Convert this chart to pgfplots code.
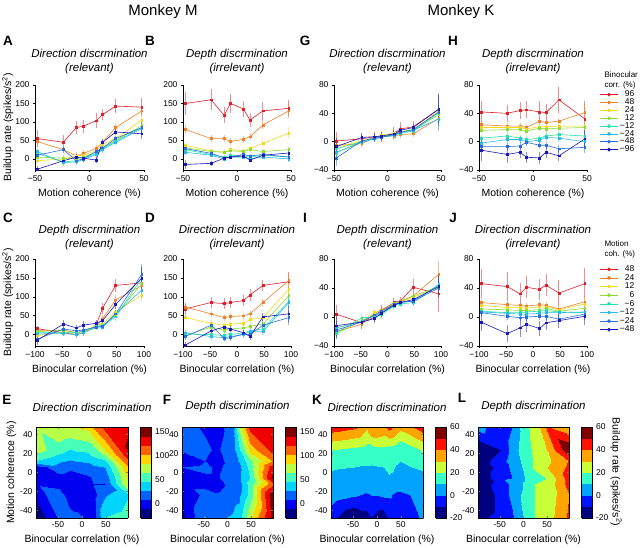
\documentclass[border=0pt]{standalone}
\usepackage{pgfplots}
\pgfplotsset{compat=1.18}
\usepackage{pgfplotstable}
\usepackage{fontspec}
\setmainfont{Liberation Sans}
\newcommand\tks{\fontsize{8.5}{9}\selectfont}
\newcommand\lbs{\fontsize{10.5}{12}\selectfont}
\newcommand\tts{\fontsize{11.5}{13.5}\selectfont\itshape}
\newcommand\lgs{\fontsize{8.5}{8.5}\selectfont}
\definecolor{c1}{RGB}{222,30,40}
\definecolor{c2}{RGB}{238,128,40}
\definecolor{c3}{RGB}{245,215,30}
\definecolor{c4}{RGB}{140,220,50}
\definecolor{c5}{RGB}{40,225,170}
\definecolor{c6}{RGB}{40,185,230}
\definecolor{c7}{RGB}{40,110,225}
\definecolor{c8}{RGB}{25,25,185}

% Monkey M, direction task (A, D, E): rows ordered by corr, then coh
\pgfplotstableread{
corr coh z e
-96 -48 -28 8
-96 -24 -5 8
-96 -12 5 8
-96 -6 2 8
-96 6 -3 8
-96 12 45 8
-96 24 73 8
-96 48 68 15
-48 -48 10 8
-48 -24 25 8
-48 -12 -5 8
-48 -6 0 8
-48 6 20 8
-48 12 30 8
-48 24 55 8
-48 48 85 15
-24 -48 20 8
-24 -24 -10 8
-24 -12 -8 8
-24 -6 -2 8
-24 6 12 8
-24 12 25 8
-24 24 45 8
-24 48 82 15
-12 -48 15 8
-12 -24 -8 8
-12 -12 -5 8
-12 -6 0 8
-12 6 15 8
-12 12 28 8
-12 24 48 8
-12 48 85 15
12 -48 5 8
12 -24 2 8
12 -12 0 8
12 -6 5 8
12 6 18 8
12 12 30 8
12 24 50 8
12 48 90 15
24 -48 -5 8
24 -24 0 8
24 -12 8 8
24 -6 10 8
24 6 22 8
24 12 40 8
24 24 55 8
24 48 105 15
48 -48 47 10
48 -24 25 10
48 -12 8 10
48 -6 15 10
48 6 28 10
48 12 45 10
48 24 85 10
48 48 130 15
96 -48 55 22
96 -24 45 20
96 -12 85 18
96 -6 88 18
96 6 103 20
96 12 120 15
96 24 143 20
96 48 140 25
}\Mdir

% Monkey M, depth task (B, C, F)
\pgfplotstableread{
corr coh z e
-96 -48 -15 12
-96 -24 -12 6
-96 -12 2 6
-96 -6 5 6
-96 6 8 6
-96 12 -3 6
-96 24 10 6
-96 48 16 8
-48 -48 28 12
-48 -24 15 6
-48 -12 3 6
-48 -6 5 6
-48 6 12 6
-48 12 8 6
-48 24 12 6
-48 48 5 8
-24 -48 18 8
-24 -24 10 6
-24 -12 0 6
-24 -6 5 6
-24 6 5 6
-24 12 0 6
-24 24 5 6
-24 48 0 8
-12 -48 25 10
-12 -24 12 6
-12 -12 5 6
-12 -6 10 6
-12 6 8 6
-12 12 5 6
-12 24 10 6
-12 48 5 8
12 -48 30 8
12 -24 20 6
12 -12 18 6
12 -6 22 6
12 6 20 6
12 12 25 6
12 24 20 6
12 48 25 8
24 -48 37 8
24 -24 22 6
24 -12 18 6
24 -6 25 6
24 6 22 6
24 12 28 6
24 24 42 10
24 48 70 15
48 -48 80 12
48 -24 55 10
48 -12 55 10
48 -6 47 10
48 6 53 10
48 12 60 10
48 24 92 12
48 48 130 18
96 -48 150 30
96 -24 160 28
96 -12 118 22
96 -6 150 25
96 6 135 22
96 12 105 18
96 24 130 25
96 48 137 22
}\Mdepth

% Monkey K, direction task (G, J, K)
\pgfplotstableread{
corr coh z e
-96 -48 -7 12
-96 -24 6 5
-96 -12 7 5
-96 -6 8 5
-96 6 11 5
-96 12 16 5
-96 24 20 5
-96 48 46 20
-48 -48 -23 12
-48 -24 1 5
-48 -12 5 5
-48 -6 6 5
-48 6 10 5
-48 12 13 5
-48 24 17 5
-48 48 42 20
-24 -48 -15 12
-24 -24 -1 5
-24 -12 4 5
-24 -6 6 5
-24 6 9 5
-24 12 13 5
-24 24 16 5
-24 48 32 15
-12 -48 -10 10
-12 -24 0 5
-12 -12 4 5
-12 -6 7 5
-12 6 9 5
-12 12 12 5
-12 24 15 5
-12 48 41 15
12 -48 -16 10
12 -24 1 5
12 -12 5 5
12 -6 8 5
12 6 10 5
12 12 14 5
12 24 17 5
12 48 38 15
24 -48 -8 10
24 -24 1 5
24 -12 6 5
24 -6 9 5
24 6 12 5
24 12 14 5
24 24 16 5
24 48 44 15
48 -48 -5 10
48 -24 -3 5
48 -12 6 5
48 -6 7 5
48 6 8 5
48 12 10 5
48 24 11 5
48 48 33 18
96 -48 1 12
96 -24 4 8
96 -12 7 6
96 -6 6 6
96 6 12 8
96 12 18 10
96 24 21 8
96 48 46 22
}\Kdir

% Monkey K, depth task (H, I, L)
\pgfplotstableread{
corr coh z e
-96 -48 -12 15
-96 -24 -18 12
-96 -12 -15 8
-96 -6 -22 8
-96 6 -23 8
-96 12 -15 8
-96 24 -20 8
-96 48 4 12
-48 -48 -7 5
-48 -24 -7 5
-48 -12 -6 5
-48 -6 -1 5
-48 6 -5 5
-48 12 -5 5
-48 24 -10 5
-48 48 -8 8
-24 -48 -2 5
-24 -24 3 5
-24 -12 3 5
-24 -6 0 5
-24 6 2 5
-24 12 6 5
-24 24 5 5
-24 48 0 8
-12 -48 5 5
-12 -24 8 5
-12 -12 5 5
-12 -6 3 5
-12 6 5 5
-12 12 8 5
-12 24 10 5
-12 48 8 8
12 -48 16 4
12 -24 17 4
12 -12 17 4
12 -6 15 4
12 6 19 4
12 12 18 4
12 24 19 4
12 48 20 6
24 -48 20 4
24 -24 20 4
24 -12 20 4
24 -6 18 4
24 6 21 4
24 12 21 4
24 24 22 4
24 48 22 6
48 -48 24 5
48 -24 22 5
48 -12 22 5
48 -6 20 5
48 6 29 5
48 12 27 5
48 24 29 5
48 48 41 12
96 -48 42 15
96 -24 40 12
96 -12 44 12
96 -6 45 12
96 6 42 15
96 12 41 12
96 24 59 18
96 48 32 25
}\Kdepth

% same data re-ordered by coherence, then correlation (for panels C, D, I, J)
\pgfplotstablecreatecol[create col/expr={\thisrow{coh}*200+\thisrow{corr}}]{key}{\Mdir}
\pgfplotstablecreatecol[create col/expr={\thisrow{coh}*200+\thisrow{corr}}]{key}{\Mdepth}
\pgfplotstablecreatecol[create col/expr={\thisrow{coh}*200+\thisrow{corr}}]{key}{\Kdir}
\pgfplotstablecreatecol[create col/expr={\thisrow{coh}*200+\thisrow{corr}}]{key}{\Kdepth}
\pgfplotstablesort[sort key=key]{\MdirT}{\Mdir}
\pgfplotstablesort[sort key=key]{\MdepthT}{\Mdepth}
\pgfplotstablesort[sort key=key]{\KdirT}{\Kdir}
\pgfplotstablesort[sort key=key]{\KdepthT}{\Kdepth}

\pgfplotsset{
  ser/.style={color=#1, line width=0.6pt, mark=square*, mark size=0.9pt,
    error bars/y dir=both, error bars/y explicit,
    error bars/error bar style={line width=0.9pt, opacity=0.5},
    error bars/error mark=none},
  lp/.style={scale only axis, anchor=south west,
    axis x line*=bottom, axis y line*=left, tick align=outside,
    major tick length=2pt, axis line style={line width=0.6pt},
    tick style={line width=0.6pt, black},
    tick label style={font=\tks}, label style={font=\lbs},
    ylabel shift=-5pt,
    title style={font=\tts, align=center, yshift=2pt}},
  cp/.style={scale only axis, anchor=south west, view={0}{90},
    enlargelimits=false, axis on top, xmin=-96, xmax=96, ymin=-48, ymax=48,
    xtick={-50,0,50}, xticklabels={-50,0,50},
    ytick={-40,-20,0,20,40}, yticklabels={-40,-20,0,20,40},
    tick label style={font=\tks}, label style={font=\lbs},
    ylabel shift=-3pt,
    title style={font=\tts, yshift=6pt, xshift=10pt}, major tick length=2pt,
    colormap/jet, colorbar,
    xlabel={Binocular correlation (\%)}},
  cbE/.style={colorbar style={at={(parent axis.north east)}, anchor=north west,
    xshift=4pt, width=11pt, ytick={0,50,100,150}, yticklabels={0,50,100,150},
    yticklabel style={font=\tks}, major tick length=0pt, colormap access=map}},
  cbK/.style={colorbar style={at={(parent axis.north east)}, anchor=north west,
    xshift=4pt, width=11pt, ytick={-20,0,20,40,60}, yticklabels={-20,0,20,40,60},
    yticklabel style={font=\tks}, major tick length=0pt, colormap access=map}},
  lg/.style 2 args={legend cell align=right,
    legend style={at={#1}, anchor=north west, draw=none, fill=none,
      font=\lgs, row sep=#2, inner sep=0pt}},
}
% one series: colour, x column, row range, table
\newcommand\ser[4]{\addplot[ser=#1, restrict expr to domain={\coordindex}{#3}] table[x=#2,y=z,y error=e]{#4};}
% eight series = eight consecutive blocks of 8 rows
\newcommand\bygroup[2]{%
  \ser{c1}{#1}{55.5:63.5}{#2}
  \ser{c2}{#1}{47.5:55.5}{#2}
  \ser{c3}{#1}{39.5:47.5}{#2}
  \ser{c4}{#1}{31.5:39.5}{#2}
  \ser{c5}{#1}{23.5:31.5}{#2}
  \ser{c6}{#1}{15.5:23.5}{#2}
  \ser{c7}{#1}{7.5:15.5}{#2}
  \ser{c8}{#1}{-0.5:7.5}{#2}}
\newcommand\lgimg[1]{\addlegendimage{#1, line width=0.6pt, mark=*, mark size=1.5pt}}
\newcommand\lgall{\lgimg{c1}\lgimg{c2}\lgimg{c3}\lgimg{c4}\lgimg{c5}\lgimg{c6}\lgimg{c7}\lgimg{c8}}

\begin{document}
\begin{tikzpicture}
\useasboundingbox (0,0) rectangle (640pt,547pt);

% headings
\node[font=\fontsize{15}{18}\selectfont] at (163pt,535pt) {Monkey M};
\node[font=\fontsize{15}{18}\selectfont] at (461pt,535pt) {Monkey K};
\tikzset{lett/.style={font=\fontsize{13.5}{16}\selectfont\bfseries}}
\node[lett] at (8pt,506pt) {A};
\node[lett] at (150pt,506pt) {B};
\node[lett] at (305pt,506pt) {G};
\node[lett] at (453pt,506pt) {H};
\node[lett] at (8pt,329pt) {C};
\node[lett] at (150pt,329pt) {D};
\node[lett] at (305pt,329pt) {I};
\node[lett] at (453pt,329pt) {J};
\node[lett] at (7pt,147pt) {E};
\node[lett] at (167pt,147pt) {F};
\node[lett] at (317pt,147pt) {K};
\node[lett] at (462pt,149pt) {L};

% ---------- Row 1 ----------
\begin{axis}[lp, at={(35pt,377pt)}, width=109pt, height=85pt,
  xmin=-50, xmax=50, ymin=-30, ymax=200,
  xtick={-50,0,50}, xticklabels={−50,0,50},
  ytick={0,50,100,150,200}, yticklabels={0,50,100,150,200},
  xlabel={Motion coherence (\%)}, ylabel={Buildup rate (spikes/s\textsuperscript{2})},
  title={Direction discrmination\\(relevant)}]
\bygroup{coh}{\Mdir}
\end{axis}
\begin{axis}[lp, at={(183pt,377pt)}, width=108pt, height=85pt,
  xmin=-50, xmax=50, ymin=-30, ymax=200,
  xtick={-50,0,50}, xticklabels={−50,0,50},
  ytick={0,50,100,150,200}, yticklabels={0,50,100,150,200},
  xlabel={Motion coherence (\%)},
  title={Depth discrmination\\(irrelevant)}]
\bygroup{coh}{\Mdepth}
\end{axis}
\begin{axis}[lp, at={(334pt,377pt)}, width=107pt, height=85pt,
  xmin=-50, xmax=50, ymin=-40, ymax=80,
  xtick={-50,0,50}, xticklabels={−50,0,50},
  ytick={-40,0,40,80}, yticklabels={−40,0,40,80},
  xlabel={Motion coherence (\%)},
  title={Direction discrmination\\(relevant)}]
\bygroup{coh}{\Kdir}
\end{axis}
\begin{axis}[lp, lg={(1.12,0.955)}{-3.6pt}, at={(479pt,377pt)}, width=108pt, height=85pt,
  xmin=-50, xmax=50, ymin=-40, ymax=80,
  xtick={-50,0,50}, xticklabels={−50,0,50},
  ytick={-40,0,40,80}, yticklabels={−40,0,40,80},
  xlabel={Motion coherence (\%)},
  title={Depth discrmination\\(irrelevant)}]
\lgall
\addlegendentry{96}
\addlegendentry{48}
\addlegendentry{24}
\addlegendentry{12}
\addlegendentry{−12}
\addlegendentry{−24}
\addlegendentry{−48}
\addlegendentry{−96}
\bygroup{coh}{\Kdepth}
\end{axis}
\node[align=left, anchor=west, font=\fontsize{8}{10}\selectfont] at (601pt,467pt) {Binocular\\corr. (\%)};

% ---------- Row 2 ----------
\begin{axis}[lp, at={(35pt,201pt)}, width=109pt, height=87pt,
  xmin=-100, xmax=100, ymin=-30, ymax=200,
  xtick={-100,-50,0,50,100}, xticklabels={−100,−50,0,50,100},
  ytick={0,50,100,150,200}, yticklabels={0,50,100,150,200},
  xlabel={Binocular correlation (\%)}, ylabel={Buildup rate (spikes/s\textsuperscript{2})},
  title style={yshift=-2pt},
  title={Depth discrmination\\(relevant)}]
\bygroup{corr}{\MdepthT}
\end{axis}
\begin{axis}[lp, at={(183pt,201pt)}, width=108pt, height=87pt,
  xmin=-100, xmax=100, ymin=-30, ymax=200,
  xtick={-100,-50,0,50,100}, xticklabels={−100,−50,0,50,100},
  ytick={0,50,100,150,200}, yticklabels={0,50,100,150,200},
  xlabel={Binocular correlation (\%)},
  title style={yshift=-2pt},
  title={Direction discrmination\\(irrelevant)}]
\bygroup{corr}{\MdirT}
\end{axis}
\begin{axis}[lp, at={(334pt,201pt)}, width=107pt, height=87pt,
  xmin=-100, xmax=100, ymin=-40, ymax=80,
  xtick={-100,-50,0,50,100}, xticklabels={−100,−50,0,50,100},
  ytick={-40,0,40,80}, yticklabels={−40,0,40,80},
  xlabel={Binocular correlation (\%)},
  title style={yshift=-2pt},
  title={Depth discrmination\\(relevant)}]
\bygroup{corr}{\KdepthT}
\end{axis}
\begin{axis}[lp, lg={(1.12,0.95)}{-2.8pt}, at={(479pt,201pt)}, width=108pt, height=87pt,
  xmin=-100, xmax=100, ymin=-40, ymax=80,
  xtick={-100,-50,0,50,100}, xticklabels={−100,−50,0,50,100},
  ytick={-40,0,40,80}, yticklabels={−40,0,40,80},
  xlabel={Binocular correlation (\%)},
  title style={yshift=-2pt},
  title={Direction discrmination\\(irrelevant)}]
\lgall
\addlegendentry{48}
\addlegendentry{24}
\addlegendentry{12}
\addlegendentry{6}
\addlegendentry{−6}
\addlegendentry{−12}
\addlegendentry{−24}
\addlegendentry{−48}
\bygroup{corr}{\KdirT}
\end{axis}
\node[align=left, anchor=west, font=\fontsize{8}{10}\selectfont] at (601pt,298pt) {Motion\\coh. (\%)};

% ---------- Row 3 ----------
\begin{axis}[cp, cbE, at={(36pt,29pt)}, width=92pt, height=91pt,
  point meta min=-30, point meta max=160,
  ylabel={Motion coherence (\%)}, title={Direction discrimination}]
\addplot3[contour filled={number=10}, mesh/rows=8, mesh/cols=8] table[x=corr,y=coh,z=z]{\Mdir};
\end{axis}
\begin{axis}[cp, cbE, at={(182pt,29pt)}, width=91pt, height=91pt,
  point meta min=-30, point meta max=160,
  title={Depth discrimination}]
\addplot3[contour filled={number=10}, mesh/rows=8, mesh/cols=8] table[x=corr,y=coh,z=z]{\Mdepth};
\end{axis}
\begin{axis}[cp, cbK, at={(331pt,29pt)}, width=92pt, height=91pt,
  point meta min=-20, point meta max=60,
  title={Direction discrimination}]
\addplot3[contour filled={number=8}, mesh/rows=8, mesh/cols=8] table[x=corr,y=coh,z=z]{\Kdir};
\end{axis}
\begin{axis}[cp, cbK, at={(478pt,29pt)}, width=91pt, height=91pt,
  point meta min=-20, point meta max=60,
  title={Depth discrimination}]
\addplot3[contour filled={number=8}, mesh/rows=8, mesh/cols=8] table[x=corr,y=coh,z=z]{\Kdepth};
\end{axis}
\node[rotate=-90, font=\lbs] at (616pt,75pt) {Buildup rate (spikes/s\textsuperscript{2})};
\end{tikzpicture}
\end{document}
